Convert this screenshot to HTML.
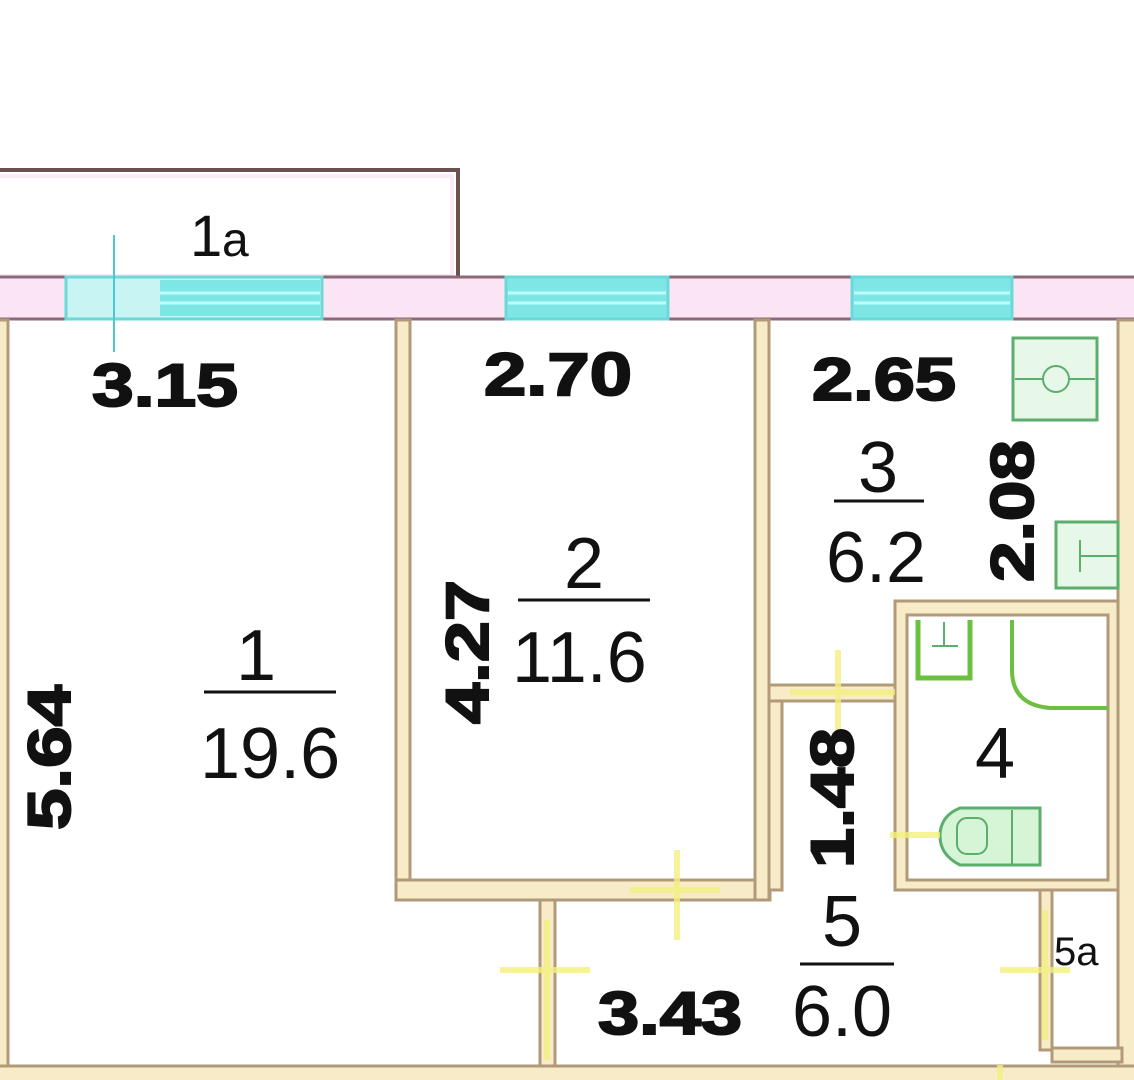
<!DOCTYPE html>
<html><head><meta charset="utf-8"><style>
html,body{margin:0;padding:0;background:#fff;width:1134px;height:1080px;overflow:hidden}
svg{display:block}
.d{font-family:"Liberation Sans",sans-serif;font-weight:bold;font-size:60px;fill:#111;stroke:#111;stroke-width:2}
.n{font-family:"Liberation Sans",sans-serif;font-size:72px;fill:#111;font-weight:normal}
.w{fill:#f7ebc8;stroke:#b09a78;stroke-width:3}
</style></head><body>
<svg width="1134" height="1080" viewBox="0 0 1134 1080" xmlns="http://www.w3.org/2000/svg">
<rect x="-5" y="170" width="463" height="110" fill="#fff" stroke="#6b5050" stroke-width="4"/>
<rect x="-5" y="176" width="457" height="100" fill="none" stroke="#fbeaf3" stroke-width="4"/>
<rect x="-5" y="277" width="1145" height="42" fill="#fbe4f4" stroke="#8a6a78" stroke-width="3"/>
<rect x="66" y="277" width="256" height="42" fill="#c8f4f4" stroke="#6cd8d8" stroke-width="3"/>
<rect x="160" y="280" width="160" height="36" fill="#7fe6e6"/>
<line x1="160" y1="293" x2="320" y2="293" stroke="#bff" stroke-width="3"/>
<line x1="160" y1="303" x2="320" y2="303" stroke="#bff" stroke-width="3"/>
<rect x="506" y="277" width="162" height="42" fill="#7fe6e6" stroke="#6cd8d8" stroke-width="3"/>
<line x1="508" y1="293" x2="666" y2="293" stroke="#bff" stroke-width="3"/>
<line x1="508" y1="303" x2="666" y2="303" stroke="#bff" stroke-width="3"/>
<rect x="852" y="277" width="160" height="42" fill="#7fe6e6" stroke="#6cd8d8" stroke-width="3"/>
<line x1="854" y1="293" x2="1010" y2="293" stroke="#bff" stroke-width="3"/>
<line x1="854" y1="303" x2="1010" y2="303" stroke="#bff" stroke-width="3"/>
<line x1="114" y1="235" x2="114" y2="352" stroke="#4cc8d0" stroke-width="2"/>
<rect class="w" x="-5" y="320" width="13" height="770"/>
<rect class="w" x="396" y="320" width="14" height="580"/>
<rect class="w" x="396" y="880" width="374" height="20"/>
<rect class="w" x="755" y="320" width="14" height="580"/>
<rect class="w" x="1118" y="320" width="20" height="770"/>
<rect class="w" x="769" y="685" width="130" height="16"/>
<rect class="w" x="769" y="701" width="13" height="189"/>
<rect class="w" x="895" y="601" width="223" height="289"/>
<rect x="907" y="615" width="201" height="265" fill="#fff" stroke="#b09a78" stroke-width="3"/>
<rect class="w" x="540" y="900" width="15" height="190"/>
<rect class="w" x="1040" y="890" width="12" height="160"/>
<rect class="w" x="1052" y="1048" width="70" height="14"/>
<rect class="w" x="-5" y="1066" width="1145" height="20"/>
<rect x="1013" y="338" width="84" height="82" fill="#e8f8e8" stroke="#5cae6c" stroke-width="3"/>
<line x1="1015" y1="379" x2="1095" y2="379" stroke="#5cae6c" stroke-width="2"/>
<circle cx="1056" cy="379" r="13" fill="#e8f8e8" stroke="#5cae6c" stroke-width="2"/>
<rect x="1056" y="522" width="62" height="66" fill="#e8f8e8" stroke="#5cae6c" stroke-width="3"/>
<line x1="1080" y1="540" x2="1080" y2="572" stroke="#5cae6c" stroke-width="2"/>
<line x1="1080" y1="556" x2="1118" y2="556" stroke="#5cae6c" stroke-width="2"/>
<path d="M918 620 V678 H970 V620" fill="none" stroke="#6cc040" stroke-width="5"/>
<line x1="944" y1="622" x2="944" y2="646" stroke="#5cae6c" stroke-width="2"/>
<line x1="932" y1="646" x2="958" y2="646" stroke="#5cae6c" stroke-width="2"/>
<path d="M1012 620 V670 Q1012 705 1050 708 H1108" fill="none" stroke="#6cc040" stroke-width="4"/>
<path d="M960 808 H1040 V865 H960 Q940 855 940 836 Q940 816 960 808Z" fill="#d6f4d6" stroke="#5cae6c" stroke-width="3"/>
<rect x="957" y="818" width="30" height="36" rx="10" fill="none" stroke="#5cae6c" stroke-width="2"/>
<line x1="1012" y1="810" x2="1012" y2="864" stroke="#5cae6c" stroke-width="2"/>
<g stroke="#f4f080" stroke-width="6" opacity="0.8">
<line x1="790" y1="692" x2="895" y2="692"/><line x1="838" y1="650" x2="838" y2="730"/>
<line x1="630" y1="890" x2="720" y2="890"/><line x1="677" y1="850" x2="677" y2="940"/>
<line x1="500" y1="970" x2="590" y2="970"/><line x1="547" y1="920" x2="547" y2="1060"/>
<line x1="890" y1="835" x2="940" y2="835"/><line x1="1000" y1="970" x2="1070" y2="970"/>
<line x1="1045" y1="910" x2="1045" y2="1040"/><line x1="1000" y1="1065" x2="1000" y2="1080"/>
</g>
<text class="n" x="190" y="256" style="font-size:58px">1</text>
<text class="n" x="222" y="256" style="font-size:48px">a</text>
<text class="d" x="92" y="406" textLength="146" lengthAdjust="spacingAndGlyphs">3.15</text>
<text class="d" x="484" y="395" textLength="148" lengthAdjust="spacingAndGlyphs">2.70</text>
<text class="d" x="812" y="400" textLength="144" lengthAdjust="spacingAndGlyphs">2.65</text>
<text class="n" x="236" y="680">1</text>
<line x1="204" y1="692" x2="336" y2="692" stroke="#111" stroke-width="3"/>
<text class="n" x="200" y="778">19.6</text>
<text class="n" x="564" y="588">2</text>
<line x1="518" y1="600" x2="650" y2="600" stroke="#111" stroke-width="3"/>
<text class="n" x="512" y="682">11.6</text>
<text class="n" x="858" y="492">3</text>
<line x1="834" y1="501" x2="924" y2="501" stroke="#111" stroke-width="3"/>
<text class="n" x="826" y="582">6.2</text>
<text class="n" x="975" y="778">4</text>
<text class="n" x="822" y="946">5</text>
<line x1="800" y1="964" x2="894" y2="964" stroke="#111" stroke-width="3"/>
<text class="n" x="792" y="1036">6.0</text>
<text class="n" x="1054" y="965" style="font-size:40px">5a</text>
<text class="d" x="598" y="1034" textLength="144" lengthAdjust="spacingAndGlyphs">3.43</text>
<text class="d" transform="translate(70,830) rotate(-90)" textLength="145" lengthAdjust="spacingAndGlyphs">5.64</text>
<text class="d" transform="translate(488,724) rotate(-90)" textLength="144" lengthAdjust="spacingAndGlyphs">4.27</text>
<text class="d" transform="translate(1033,582) rotate(-90)" textLength="142" lengthAdjust="spacingAndGlyphs">2.08</text>
<text class="d" transform="translate(853,868) rotate(-90)" textLength="140" lengthAdjust="spacingAndGlyphs">1.48</text>
</svg>
</body></html>
